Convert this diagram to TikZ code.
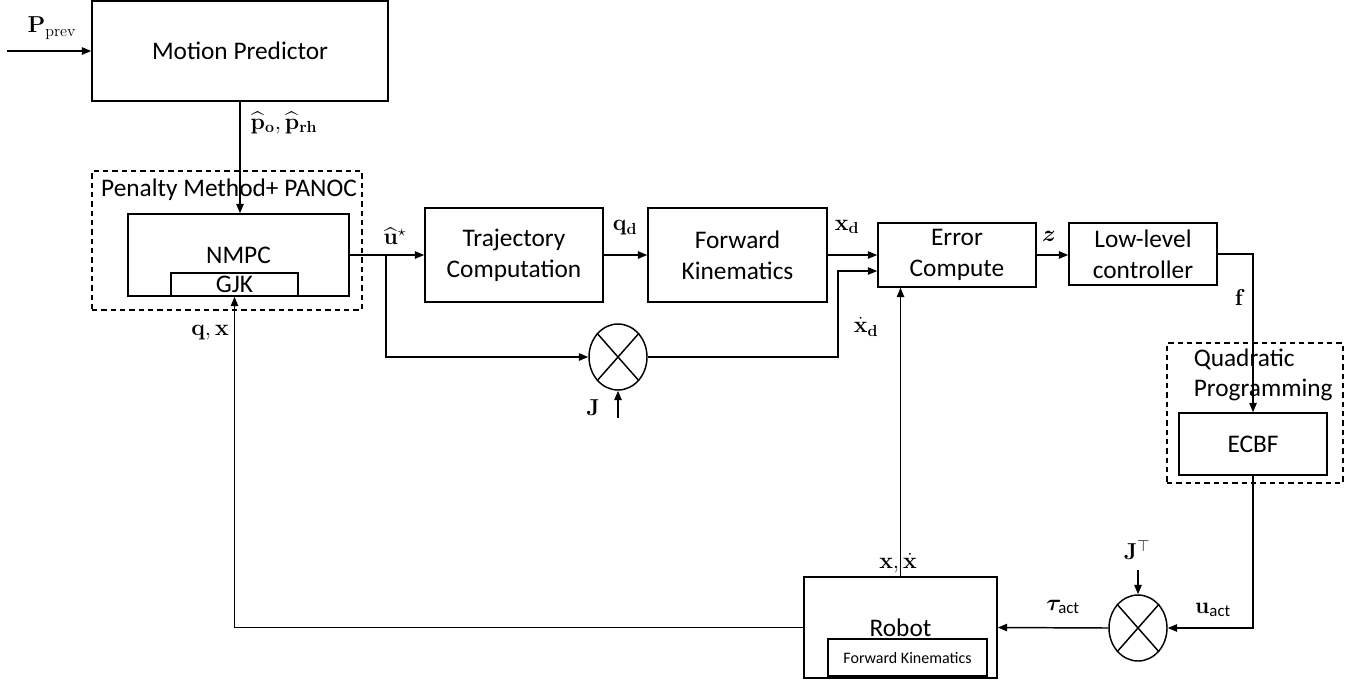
\documentclass[tikz,border=0pt]{standalone}
\usepackage{amsmath,bm}
\usepackage[no-math]{fontspec}
\setmainfont{Carlito}
\usetikzlibrary{arrows.meta,shapes.geometric}

\tikzset{every picture/.style={line width=1.1pt}}
\tikzset{
  blkbox/.style={draw, align=center, inner sep=0pt, font=\fontsize{19}{23}\selectfont},
  dashbox/.style={draw, dash pattern=on 4pt off 3pt, inner sep=0pt},
  multnode/.style={draw, ellipse, minimum width=43.5pt, minimum height=49.5pt, inner sep=0pt},
  sig/.style={font=\fontsize{18}{20}\selectfont, inner sep=0pt},
  arr/.style={-{Triangle[length=7pt,width=5.5pt]}},
}

\begin{document}
\begin{tikzpicture}[x=0.75pt,y=0.75pt,yscale=-1,xscale=1]
		\useasboundingbox (0,0) rectangle (1358,682);
		
		%Shape: Rectangle [id:mp01] 
		\node[blkbox, minimum width=222pt, minimum height=75pt] (mp) at (240,51) {Motion Predictor};
		%Shape: Rectangle [id:pen01] 
		\node[dashbox, minimum width=202.5pt, minimum height=104.25pt] (pen) at (227,240.5) {};
		\node[font=\fontsize{19}{23}\selectfont, inner sep=0pt] (penlbl) at (229,190) {Penalty Method+ PANOC};
		%Shape: Rectangle [id:nmpc01] 
		\node[blkbox, minimum width=165.75pt, minimum height=61.5pt] (nmpc) at (238.5,255) {NMPC};
		%Shape: Rectangle [id:gjk01] 
		\node[blkbox, minimum width=95.25pt, minimum height=17.25pt] (gjk) at (234.5,284.5) {GJK};
		%Shape: Rectangle [id:traj01] 
		\node[blkbox, minimum width=133.5pt, minimum height=70.5pt] (traj) at (514,255) {Trajectory\\Computation};
		%Shape: Rectangle [id:fk01] 
		\node[blkbox, minimum width=134.25pt, minimum height=70.5pt] (fk) at (737.5,255) {Forward\\Kinematics};
		%Shape: Rectangle [id:err01] 
		\node[blkbox, minimum width=118.5pt, minimum height=48pt] (err) at (957,255) {Error\\Compute};
		%Shape: Rectangle [id:low01] 
		\node[blkbox, minimum width=111pt, minimum height=46.5pt] (low) at (1143,254) {Low-level\\controller};
		%Shape: Rectangle [id:qp01] 
		\node[dashbox, minimum width=132pt, minimum height=105pt] (qp) at (1255,413) {};
		\node[font=\fontsize{19}{23}\selectfont, inner sep=0pt, anchor=west, align=left] (qplbl) at (1193,375) {Quadratic\\Programming};
		%Shape: Rectangle [id:ecbf01] 
		\node[blkbox, minimum width=111pt, minimum height=46.5pt] (ecbf) at (1253,444) {ECBF};
		%Shape: Rectangle [id:rob01] 
		\node[blkbox, minimum width=144.75pt, minimum height=75.75pt] (robot) at (900.5,627.5) {Robot};
		\node[draw, inner sep=0pt, minimum width=119.25pt, minimum height=27.75pt, font=\fontsize{12}{14}\selectfont] (rfk) at (907.5,657.5) {Forward Kinematics};
		%Shape: Ellipse [id:m101] 
		\node[multnode] (m1) at (618,357) {};
		\draw (m1.north west) -- (m1.south east) (m1.north east) -- (m1.south west);
		%Shape: Ellipse [id:m201] 
		\node[multnode] (m2) at (1138,628) {};
		\draw (m2.north west) -- (m2.south east) (m2.north east) -- (m2.south west);
		
		%Straight Lines [id:ln01] 
		\coordinate (pin) at (7,51);
		\draw[arr] (pin) -- (mp.west);
		%Straight Lines [id:ln02] 
		\draw[arr] (mp.south) -- (mp.south |- nmpc.north);
		%Straight Lines [id:ln03] 
		\coordinate (br) at (386,255);
		\draw[arr] (nmpc.east) -- (traj.west);
		\draw[arr] (br) |- (m1.west);
		%Straight Lines [id:ln04] 
		\draw[arr] (traj.east) -- (fk.west);
		\draw[arr] (fk.east) -- (err.west);
		%Straight Lines [id:ln05] 
		\coordinate (dxd) at (838,271);
		\draw[arr] (m1.east) -| (dxd) -- (dxd -| err.west);
		%Straight Lines [id:ln06] 
		\coordinate (jin) at (618,418);
		\draw[arr] (jin) -- (m1.south);
		%Straight Lines [id:ln07] 
		\draw[arr] (err.east) -- (err.east -| low.west);
		\draw[arr] (low.east) -| (ecbf.north);
		\draw[arr] (ecbf.south) |- (m2.east);
		%Straight Lines [id:ln08] 
		\coordinate (jtin) at (1138,570);
		\draw[arr] (jtin) -- (m2.north);
		\draw[arr] (m2.west) -- (robot.east);
		%Straight Lines [id:ln09] 
		\draw[arr] (robot.north) -- (robot.north |- err.south);
		\draw[arr] (robot.west) -| (gjk.south);
		
		% signal labels
		\node[sig] (lpprev) at (52,28) {$\mathbf{P}_{\mathrm{prev}}$};
		\node[sig] (lphat) at (284,123) {$\widehat{\mathbf{p}}_{\mathbf{o}},\widehat{\mathbf{p}}_{\mathbf{rh}}$};
		\node[sig] (lustar) at (395,236) {$\widehat{\mathbf{u}}^{\star}$};
		\node[sig] (lqd) at (625,228) {$\mathbf{q}_{\mathbf{d}}$};
		\node[sig] (lxd) at (847,227) {$\mathbf{x}_{\mathbf{d}}$};
		\node[sig] (lxdot) at (866,327) {$\dot{\mathbf{x}}_{\mathbf{d}}$};
		\node[sig] (lj) at (593,408) {$\mathbf{J}$};
		\node[sig] (lz) at (1049,236) {$\bm{z}$};
		\node[sig] (lf) at (1240,297) {$\mathbf{f}$};
		\node[sig] (ljt) at (1137,550) {$\mathbf{J}^{\top}$};
		\node[sig] (luact) at (1213,610) {$\mathbf{u}_{\text{act}}$};
		\node[sig] (ltau) at (1063,607) {$\bm{\tau}_{\text{act}}$};
		\node[sig] (lxx) at (898,563) {$\mathbf{x},\dot{\mathbf{x}}$};
		\node[sig] (lqx) at (210,333) {$\mathbf{q},\mathbf{x}$};
	\end{tikzpicture}
\end{document}
